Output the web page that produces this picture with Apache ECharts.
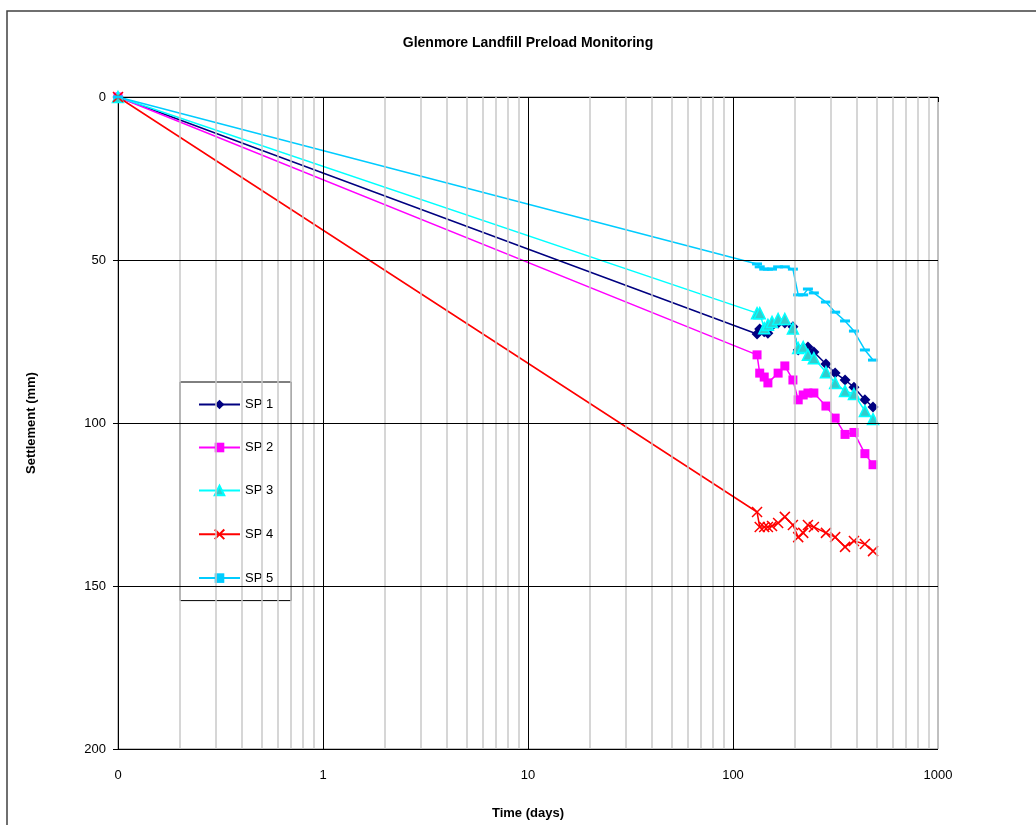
<!DOCTYPE html>
<html>
<head>
<meta charset="utf-8">
<script src="https://cdn.jsdelivr.net/npm/echarts@6/dist/echarts.min.js"></script>
<style>
  html, body { margin: 0; padding: 0; background: #fff; }
  #chart { width: 1036px; height: 825px; }
</style>
</head>
<body>
<div id="chart"></div>
<script>
// survey times (days), 0 = start of preload (shown at the axis origin)
var times = [0, 131, 135, 142, 148, 155, 166, 179, 196, 208, 220, 232, 248, 284, 315, 352, 389, 440, 482];

// settlement (mm) per plate
var sp1 = [0, 72.7, 71.2, 72.0, 72.5, 70.2, 69.3, 69.3, 70.5, 77.6, 77.0, 76.7, 78.2, 81.9, 84.7, 86.8, 89.0, 92.9, 95.1];
var sp2 = [0, 79.1, 84.7, 85.9, 87.7, null, 84.7, 82.5, 86.8, 92.9, 91.4, 90.8, 90.8, 94.8, 98.5, 103.5, 102.9, 109.4, 112.8];
var sp3 = [0, 66.3, 66.3, 70.9, 69.9, 69.0, 68.1, 68.1, 71.0, 77.0, 76.7, 79.1, 80.1, 84.4, 87.7, 90.2, 91.1, 96.3, 98.8];
var sp4 = [0, 127.3, 131.9, 131.9, 131.9, 131.6, 130.7, 128.8, 131.3, 135.0, 133.7, 131.3, 131.9, 133.7, 135.0, 138.0, 136.2, 137.1, 139.3];
var sp5 = [0, 51.2, 52.1, 52.8, 52.8, 52.8, 52.1, 52.1, 52.8, 60.7, 60.7, 58.9, 60.1, 62.9, 66.0, 68.7, 71.8, 77.6, 80.7];

var names = ['SP 1', 'SP 2', 'SP 3', 'SP 4', 'SP 5'];
var xTicks = [0.1, 1, 10, 100, 1000];
var xTickLabels = ['0', '1', '10', '100', '1000'];
var yTicks = [0, 50, 100, 150, 200];

var X_MIN = 0.1;
function pairs(vals) {
  var out = [];
  for (var i = 0; i < times.length; i++) {
    if (vals[i] == null) continue;
    out.push([times[i] <= 0 ? X_MIN : times[i], vals[i]]);
  }
  return out;
}

// light minor gridlines 2..9 in each decade
var minorLines = [];
for (var d = 0; d < 4; d++) {
  for (var k = 2; k <= 9; k++) minorLines.push({ xAxis: k * xTicks[d] });
}
// black major gridlines inside the plot (top/right borders stay grey)
var majorLines = [];
xTicks.slice(1, 4).forEach(function (v) { majorLines.push({ xAxis: v }); });
yTicks.slice(1).forEach(function (v) { majorLines.push({ yAxis: v }); });

var FONT = 'Liberation Sans';
var chart = echarts.init(document.getElementById('chart'));

function lineSeries(name, data, color, symbol, size, extra) {
  var s = {
    name: name,
    type: 'line',
    data: pairs(data),
    symbol: symbol,
    symbolSize: size,
    lineStyle: { color: color, width: 1.5 },
    itemStyle: { color: color },
    z: 3,
    animation: false
  };
  for (var k in extra) s[k] = extra[k];
  return s;
}

var option = {
  animation: false,
  backgroundColor: '#fff',
  graphic: [
    { type: 'rect', shape: { x: 7, y: 11, width: 1200, height: 1000 },
      style: { fill: 'none', stroke: '#404040', lineWidth: 1.5 }, z: -1 },
    { type: 'text', x: 528, y: 43,
      style: { text: 'Glenmore Landfill Preload Monitoring', font: 'bold 14px "Liberation Sans"',
               align: 'center', verticalAlign: 'middle', fill: '#000' } }
  ],
  grid: {
    left: 118, top: 97, right: 98, bottom: 76,
    show: true, borderColor: '#808080', borderWidth: 1, backgroundColor: '#fff'
  },
  legend: {
    orient: 'vertical',
    left: 180, top: 382,
    data: names,
    itemWidth: 41, itemHeight: 12, itemGap: 30,
    padding: [16, 18, 16, 18],
    backgroundColor: '#fff',
    borderColor: '#000', borderWidth: 1, borderRadius: 0,
    textStyle: { fontFamily: FONT, fontSize: 13, color: '#000' }
  },
  xAxis: {
    type: 'log', logBase: 10, min: X_MIN, max: 1000,
    name: 'Time (days)', nameLocation: 'middle', nameGap: 58,
    nameTextStyle: { fontFamily: FONT, fontSize: 13, fontWeight: 'bold', color: '#000' },
    axisLine: { show: true, lineStyle: { color: '#000', width: 1 } },
    axisTick: { show: true, inside: false, length: 5, lineStyle: { color: '#000' } },
    axisLabel: {
      fontFamily: FONT, fontSize: 13, color: '#000', margin: 20,
      formatter: function (v) {
        var i = xTicks.indexOf(v);
        return i >= 0 ? xTickLabels[i] : '';
      }
    },
    splitLine: { show: false },
    minorTick: { show: false },
    minorSplitLine: { show: false }
  },
  yAxis: {
    type: 'value', inverse: true, min: 0, max: 200, interval: 50,
    name: 'Settlement (mm)', nameLocation: 'middle', nameGap: 80,
    nameTextStyle: { fontFamily: FONT, fontSize: 13, fontWeight: 'bold', color: '#000' },
    axisLine: { show: true, lineStyle: { color: '#000', width: 1 } },
    axisTick: { show: true, inside: false, length: 5, lineStyle: { color: '#000' } },
    axisLabel: { fontFamily: FONT, fontSize: 13, color: '#000', margin: 12 },
    splitLine: { show: false }
  },
  series: [
    {
      name: 'grid-minor', type: 'line', data: [], z: 1, silent: true,
      markLine: {
        silent: true, symbol: 'none', animation: false,
        label: { show: false },
        lineStyle: { color: '#c8c8c8', width: 1.5, type: 'solid' },
        data: minorLines
      }
    },
    {
      name: 'grid-major', type: 'line', data: [], z: 2, silent: true,
      markLine: {
        silent: true, symbol: 'none', animation: false,
        label: { show: false },
        lineStyle: { color: '#000', width: 1, type: 'solid' },
        data: majorLines
      }
    },
    lineSeries(names[0], sp1, '#000080', 'diamond', 11, {}),
    lineSeries(names[1], sp2, '#ff00ff', 'rect', 9, {}),
    lineSeries(names[2], sp3, '#00ffff', 'triangle', 11,
      { itemStyle: { color: '#33cccc', borderColor: '#00ffff', borderWidth: 1.5 } }),
    lineSeries(names[3], sp4, '#ff0000', 'path://M0,0L10,10M10,0L0,10', 10,
      { itemStyle: { color: 'none', borderColor: '#ff0000', borderWidth: 1.5 } }),
    lineSeries(names[4], sp5, '#00ccff', 'rect', [10, 3], {})
  ]
};

chart.setOption(option);
</script>
</body>
</html>
